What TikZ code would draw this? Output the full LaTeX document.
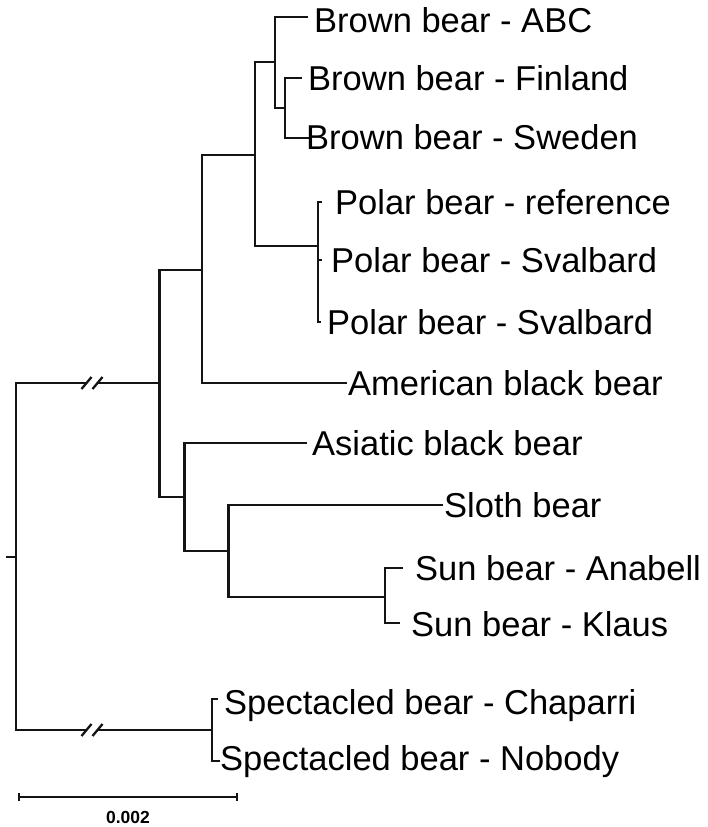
\documentclass[tikz,border=0pt]{standalone}
\usepackage{fontspec}
\setmainfont{Liberation Sans}
\begin{document}
\begin{tikzpicture}[x=1pt,y=-1pt,
  br/.style={line width=2.8pt, draw=black!92},
  thinbr/.style={line width=1.8pt, draw=black!92},
  slash/.style={line width=2.3pt, draw=black!92},
  lbl/.style={anchor=base west, inner sep=0pt, font=\fontsize{34.5}{40}\selectfont},
  sblbl/.style={anchor=base, inner sep=0pt, font=\fontsize{17.5}{20}\selectfont\bfseries}]
\useasboundingbox (0,0) rectangle (708,827);
% internal nodes
\coordinate (S0) at (6,557);
\coordinate (R) at (16,557);
\coordinate (A) at (159.5,383);
\coordinate (B) at (202,270);
\coordinate (C) at (255,155);
\coordinate (D) at (275,62);
\coordinate (E) at (285,108);
\coordinate (P) at (318,246);
\coordinate (F) at (184.5,497);
\coordinate (G) at (228.5,551);
\coordinate (Sun) at (385,597);
\coordinate (Sp) at (212,730);
% break points
\coordinate (bt1) at (86.5,383);
\coordinate (bt2) at (97.5,383);
\coordinate (bb1) at (86.5,730);
\coordinate (bb2) at (97.5,730);
% leaf ends
\coordinate (lABC) at (308,17);
\coordinate (lFin) at (302,78);
\coordinate (lSwe) at (309,138);
\coordinate (lPref) at (322,202);
\coordinate (lSv1) at (322,260);
\coordinate (lSv2) at (321,322);
\coordinate (lAm) at (347,383);
\coordinate (lAs) at (307,443);
\coordinate (lSl) at (443,505);
\coordinate (lAn) at (403,568);
\coordinate (lKl) at (400,623);
\coordinate (lCh) at (218,699);
\coordinate (lNo) at (220,761);
% root
\draw[br] (S0) -- (R);
\draw[br] (R) |- (bt1);
\draw[br] (bt2) -- (A);
\draw[br] (R) |- (bb1);
\draw[thinbr] (bb2) -- (Sp);
\draw[slash] (bt1) ++(-5,6) -- ++(10,-12);
\draw[slash] (bt2) ++(-5,6) -- ++(10,-12);
\draw[slash] (bb1) ++(-5,6) -- ++(10,-12);
\draw[slash] (bb2) ++(-5,6) -- ++(10,-12);
% tree
\draw[br] (A) |- (B);
\draw[br] (A) |- (F);
\draw[br] (B) |- (C);
\draw[br] (B) |- (lAm);
\draw[br] (C) |- (D);
\draw[br] (C) |- (P);
\draw[br] (D) |- (lABC);
\draw[br] (D) |- (E);
\draw[br] (E) |- (lFin);
\draw[br] (E) |- (lSwe);
\draw[br] (P) |- (lPref);
\draw[br] (P) |- (lSv1);
\draw[br] (P) |- (lSv2);
\draw[br] (F) |- (lAs);
\draw[br] (F) |- (G);
\draw[br] (G) |- (lSl);
\draw[br] (G) |- (Sun);
\draw[br] (Sun) |- (lAn);
\draw[br] (Sun) |- (lKl);
\draw[br] (Sp) |- (lCh);
\draw[br] (Sp) |- (lNo);
% labels
\node[lbl] (tABC) at (314,32.4) {Brown bear - ABC};
\node[lbl] (tFin) at (308,90.4) {Brown bear - Finland};
\node[lbl] (tSwe) at (306,149.4) {Brown bear - Sweden};
\node[lbl] (tPref) at (335,214.4) {Polar bear - reference};
\node[lbl] (tSv1) at (331,272.4) {Polar bear - Svalbard};
\node[lbl] (tSv2) at (327,334.4) {Polar bear - Svalbard};
\node[lbl] (tAm) at (348,395.4) {American black bear};
\node[lbl] (tAs) at (312,455.4) {Asiatic black bear};
\node[lbl] (tSl) at (444,517.4) {Sloth bear};
\node[lbl] (tAn) at (415,580.4) {Sun bear - Anabell};
\node[lbl] (tKl) at (411,636.4) {Sun bear - Klaus};
\node[lbl] (tCh) at (224,714.4) {Spectacled bear - Chaparri};
\node[lbl] (tNo) at (220,770.4) {Spectacled bear - Nobody};
% scale bar
\coordinate (sb1) at (19,797);
\coordinate (sb2) at (237,797);
\draw[line width=2.7pt, draw=black!92] (sb1) -- (sb2);
\draw[line width=1.7pt, draw=black!92] (sb1) ++(0,-4) -- ++(0,8);
\draw[line width=1.7pt, draw=black!92] (sb2) ++(0,-4) -- ++(0,8);
\node[sblbl] (sbl) at (128,823) {0.002};
\end{tikzpicture}
\end{document}
